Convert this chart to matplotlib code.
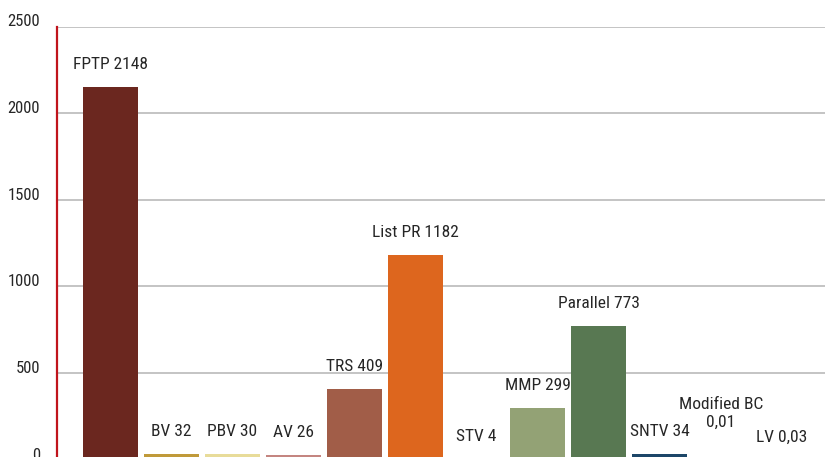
import matplotlib
matplotlib.use('Agg')
import matplotlib.pyplot as plt
import matplotlib.transforms as mtransforms

plt.rcParams['font.family'] = ['Roboto Condensed', 'Archivo Narrow', 'DejaVu Sans']

# Electoral systems and number of countries using them
systems = ['FPTP', 'BV', 'PBV', 'AV', 'TRS', 'List PR', 'STV', 'MMP',
           'Parallel', 'SNTV', 'Modified BC', 'LV']
values = [2148, 32, 30, 26, 409, 1182, 4, 299, 773, 34, 0.01, 0.03]
value_text = ['2148', '32', '30', '26', '409', '1182', '4', '299',
              '773', '34', '0,01', '0,03']
colors = ['#6b271f', '#c09a3a', '#e8dc9a', '#c48580', '#a15d48', '#dd661e',
          '#ffffff', '#93a275', '#587852', '#1d4668', '#ffffff', '#ffffff']
yticks = [0, 500, 1000, 1500, 2000, 2500]

W, H = 825, 457
fig = plt.figure(figsize=(W / 100, H / 100), dpi=100)
ax = fig.add_axes([57 / W, -2.6 / H, 768 / W, 433.1 / H])

x = list(range(len(systems)))
ax.bar(x, values, width=0.9, color=colors, zorder=3)

ax.set_xlim(-0.877, 11.71)
ax.set_ylim(0, 2500)
ax.set_xticks([])
ax.set_yticks(yticks)
ax.set_yticklabels([str(t) for t in yticks])
ax.tick_params(axis='y', length=0, pad=12.2, labelsize=12, labelcolor='#262626')
ax.grid(axis='y', color='#b4b4b4', linewidth=1.1, zorder=0)

# shift tick labels slightly upward
offset = mtransforms.ScaledTranslation(0, 6 / 100, fig.dpi_scale_trans)
for lab in ax.get_yticklabels():
    lab.set_transform(lab.get_transform() + offset)

for s in ['top', 'right', 'bottom']:
    ax.spines[s].set_visible(False)
ax.spines['left'].set_color('#c0141c')
ax.spines['left'].set_linewidth(1.6)
ax.spines['left'].set_zorder(4)

# value labels above bars
for xi, v, name, vt in zip(x, values, systems, value_text):
    if name == 'Modified BC':
        text = name + '\n' + vt
        dy = 30
    else:
        text = name + ' ' + vt
        dy = 15
    ax.annotate(text, (xi, v), xytext=(0, dy * 0.72), textcoords='offset points',
                ha='center', va='bottom', fontsize=12.5, color='#262626',
                linespacing=1.2, annotation_clip=False)

fig.savefig('out.png', dpi=100)
